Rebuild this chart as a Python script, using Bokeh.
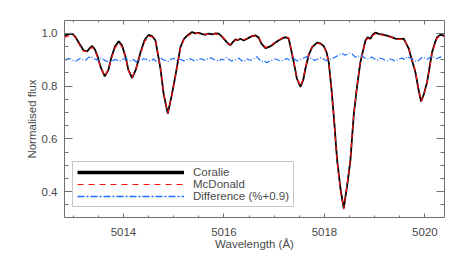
from bokeh.plotting import figure
from bokeh.models import (Range1d, LinearAxis, SingleIntervalTicker, CustomJSTickFormatter,
                          NumeralTickFormatter, Legend, LegendItem, ColumnDataSource)
from bokeh.embed import file_html
from bokeh.resources import INLINE

# ---------------- data ----------------
wavelength = [
    5012.826, 5012.90, 5012.945, 5013.00, 5013.045, 5013.12, 5013.204, 5013.278, 5013.33, 5013.377,
    5013.43, 5013.477, 5013.55, 5013.628, 5013.70, 5013.761, 5013.83, 5013.906, 5013.97, 5014.040,
    5014.10, 5014.173, 5014.25, 5014.338, 5014.42, 5014.503, 5014.57, 5014.637, 5014.736, 5014.80,
    5014.882, 5014.96, 5015.035, 5015.134, 5015.20, 5015.268, 5015.367, 5015.43, 5015.50, 5015.57,
    5015.632, 5015.70, 5015.77, 5015.83, 5015.897, 5015.96, 5016.030, 5016.08, 5016.129, 5016.18,
    5016.229, 5016.28, 5016.328, 5016.394, 5016.46, 5016.51, 5016.561, 5016.62, 5016.687, 5016.75,
    5016.826, 5016.89, 5016.959, 5017.02, 5017.085, 5017.15, 5017.224, 5017.290, 5017.389, 5017.45,
    5017.522, 5017.58, 5017.622, 5017.69, 5017.755, 5017.855, 5017.92, 5017.986, 5018.04, 5018.086,
    5018.14, 5018.185, 5018.253, 5018.32, 5018.384, 5018.45, 5018.517, 5018.583, 5018.65, 5018.716,
    5018.816, 5018.86, 5018.915, 5018.96, 5019.015, 5019.08, 5019.15, 5019.22, 5019.280, 5019.35,
    5019.413, 5019.50, 5019.578, 5019.678, 5019.74, 5019.811, 5019.87, 5019.924, 5019.98, 5020.044,
    5020.143, 5020.20, 5020.243, 5020.308, 5020.35, 5020.40,
]
coralie = [
    0.992, 0.997, 0.999, 0.996, 0.986, 0.962, 0.936, 0.932, 0.945, 0.952,
    0.940, 0.917, 0.870, 0.837, 0.862, 0.910, 0.950, 0.970, 0.955, 0.912,
    0.860, 0.831, 0.865, 0.928, 0.975, 0.995, 0.990, 0.973, 0.867, 0.770,
    0.696, 0.765, 0.841, 0.948, 0.978, 0.992, 1.005, 1.000, 1.002, 0.997,
    0.995, 0.999, 0.996, 1.000, 0.999, 0.988, 0.973, 0.962, 0.955, 0.968,
    0.977, 0.975, 0.980, 0.973, 0.980, 0.985, 0.990, 0.993, 0.985, 0.960,
    0.944, 0.948, 0.955, 0.965, 0.973, 0.980, 0.986, 0.980, 0.891, 0.830,
    0.797, 0.825, 0.867, 0.920, 0.948, 0.965, 0.962, 0.952, 0.930, 0.891,
    0.790, 0.689, 0.519, 0.410, 0.337, 0.420, 0.519, 0.689, 0.800, 0.891,
    0.973, 0.985, 0.980, 0.995, 1.003, 0.998, 0.996, 0.993, 0.990, 0.985,
    0.980, 0.978, 0.980, 0.942, 0.900, 0.853, 0.790, 0.742, 0.770, 0.816,
    0.929, 0.965, 0.986, 0.995, 0.993, 0.992,
]
mcdonald = [
    0.986, 0.990, 0.995, 0.994, 0.983, 0.958, 0.933, 0.931, 0.942, 0.947,
    0.936, 0.914, 0.868, 0.838, 0.865, 0.905, 0.945, 0.963, 0.950, 0.910,
    0.858, 0.833, 0.868, 0.922, 0.968, 0.990, 0.987, 0.975, 0.870, 0.772,
    0.698, 0.763, 0.838, 0.944, 0.976, 0.990, 1.001, 1.002, 0.999, 0.998,
    0.997, 0.996, 0.998, 0.998, 0.996, 0.990, 0.975, 0.963, 0.957, 0.966,
    0.974, 0.977, 0.978, 0.976, 0.982, 0.984, 0.992, 0.990, 0.987, 0.963,
    0.947, 0.950, 0.958, 0.967, 0.975, 0.982, 0.988, 0.983, 0.894, 0.832,
    0.800, 0.828, 0.870, 0.922, 0.950, 0.962, 0.960, 0.951, 0.928, 0.889,
    0.787, 0.685, 0.514, 0.406, 0.334, 0.424, 0.522, 0.692, 0.803, 0.893,
    0.970, 0.981, 0.978, 0.992, 0.999, 0.996, 0.994, 0.991, 0.988, 0.984,
    0.978, 0.977, 0.980, 0.944, 0.903, 0.856, 0.792, 0.743, 0.768, 0.813,
    0.925, 0.961, 0.983, 0.991, 0.990, 0.989,
]
diff_wavelength = [
    5012.85, 5012.90, 5012.95, 5013.00, 5013.05, 5013.10, 5013.15, 5013.20, 5013.25, 5013.30,
    5013.35, 5013.40, 5013.45, 5013.50, 5013.55, 5013.60, 5013.65, 5013.70, 5013.75, 5013.80,
    5013.85, 5013.90, 5013.95, 5014.00, 5014.05, 5014.10, 5014.15, 5014.20, 5014.25, 5014.30,
    5014.35, 5014.40, 5014.45, 5014.50, 5014.55, 5014.60, 5014.65, 5014.70, 5014.75, 5014.80,
    5014.85, 5014.90, 5014.95, 5015.00, 5015.05, 5015.10, 5015.15, 5015.20, 5015.25, 5015.30,
    5015.35, 5015.40, 5015.45, 5015.50, 5015.55, 5015.60, 5015.65, 5015.70, 5015.75, 5015.80,
    5015.85, 5015.90, 5015.95, 5016.00, 5016.05, 5016.10, 5016.15, 5016.20, 5016.25, 5016.30,
    5016.35, 5016.40, 5016.45, 5016.50, 5016.55, 5016.60, 5016.65, 5016.70, 5016.75, 5016.80,
    5016.85, 5016.90, 5016.95, 5017.00, 5017.05, 5017.10, 5017.15, 5017.20, 5017.25, 5017.30,
    5017.35, 5017.40, 5017.45, 5017.50, 5017.55, 5017.60, 5017.65, 5017.70, 5017.75, 5017.80,
    5017.85, 5017.90, 5017.95, 5018.00, 5018.05, 5018.10, 5018.15, 5018.20, 5018.25, 5018.30,
    5018.35, 5018.40, 5018.45, 5018.50, 5018.55, 5018.60, 5018.65, 5018.70, 5018.75, 5018.80,
    5018.85, 5018.90, 5018.95, 5019.00, 5019.05, 5019.10, 5019.15, 5019.20, 5019.25, 5019.30,
    5019.35, 5019.40, 5019.45, 5019.50, 5019.55, 5019.60, 5019.65, 5019.70, 5019.75, 5019.80,
    5019.85, 5019.90, 5019.95, 5020.00, 5020.05, 5020.10, 5020.15, 5020.20, 5020.25, 5020.30,
    5020.35,
]
difference = [
    0.898, 0.905, 0.903, 0.897, 0.894, 0.901, 0.906, 0.900, 0.899, 0.908,
    0.913, 0.904, 0.902, 0.896, 0.907, 0.901, 0.896, 0.890, 0.893, 0.899,
    0.901, 0.895, 0.897, 0.903, 0.904, 0.898, 0.895, 0.901, 0.892, 0.897,
    0.899, 0.904, 0.902, 0.896, 0.897, 0.903, 0.894, 0.900, 0.906, 0.899,
    0.898, 0.893, 0.903, 0.906, 0.897, 0.902, 0.901, 0.896, 0.899, 0.905,
    0.902, 0.897, 0.898, 0.903, 0.904, 0.899, 0.900, 0.906, 0.907, 0.901,
    0.898, 0.894, 0.903, 0.899, 0.909, 0.902, 0.895, 0.899, 0.901, 0.906,
    0.897, 0.893, 0.904, 0.900, 0.899, 0.905, 0.912, 0.902, 0.893, 0.897,
    0.889, 0.894, 0.898, 0.903, 0.902, 0.897, 0.896, 0.900, 0.905, 0.899,
    0.909, 0.903, 0.896, 0.901, 0.903, 0.908, 0.912, 0.906, 0.905, 0.898,
    0.901, 0.906, 0.908, 0.900, 0.897, 0.902, 0.904, 0.909, 0.914, 0.920,
    0.925, 0.918, 0.920, 0.926, 0.922, 0.913, 0.908, 0.917, 0.915, 0.907,
    0.902, 0.908, 0.910, 0.903, 0.898, 0.906, 0.904, 0.899, 0.896, 0.903,
    0.901, 0.895, 0.899, 0.904, 0.906, 0.900, 0.912, 0.907, 0.903, 0.897,
    0.893, 0.902, 0.911, 0.905, 0.902, 0.909, 0.914, 0.906, 0.905, 0.911,
    0.908,
]
series_labels = ["Coralie", "McDonald", "Difference (%+0.9)"]
x_ticks_major = 2
y_ticks_major = 0.2

# ---------------- figure ----------------
FONT = "Liberation Sans"
TXT = "#4a4a4a"
AX = "#707070"

p = figure(width=463, height=260, output_backend="svg", toolbar_location=None,
           x_range=Range1d(5012.826, 5020.39), y_range=Range1d(0.302, 1.049),
           x_axis_type=None, y_axis_type=None,
           min_border_left=64, min_border_right=19, min_border_top=20, min_border_bottom=43)
p.outline_line_color = None
p.xgrid.visible = False
p.ygrid.visible = False
p.background_fill_color = "white"
p.border_fill_color = "white"

def style(ax, tick_in, minor_in, labels=True):
    ax.axis_line_color = AX
    ax.axis_line_width = 1
    ax.major_tick_line_color = AX
    ax.minor_tick_line_color = AX
    ax.major_tick_out = 0
    ax.minor_tick_out = 0
    ax.major_tick_in = tick_in
    ax.minor_tick_in = minor_in
    ax.major_label_text_font = FONT
    ax.major_label_text_font_size = "11.5px"
    ax.major_label_text_color = TXT
    ax.axis_label_text_font = FONT
    ax.axis_label_text_font_size = "11.5px"
    ax.axis_label_text_font_style = "normal"
    ax.axis_label_text_color = TXT
    if not labels:
        ax.formatter = CustomJSTickFormatter(code="return ''")
        ax.major_label_standoff = 0

xt = lambda: SingleIntervalTicker(interval=x_ticks_major, num_minor_ticks=4)
yt = lambda: SingleIntervalTicker(interval=y_ticks_major, num_minor_ticks=4)

xb = LinearAxis(ticker=xt(), axis_label="Wavelength (Å)", formatter=NumeralTickFormatter(format="0"))
style(xb, 4, 2)
xb.major_label_standoff = 10
xb.axis_label_standoff = -1
p.add_layout(xb, "below")

xa = LinearAxis(ticker=xt())
style(xa, 4, 2, labels=False)
p.add_layout(xa, "above")

yl = LinearAxis(ticker=yt(), axis_label="Normalised flux", formatter=NumeralTickFormatter(format="0.0"))
style(yl, 8, 4)
yl.major_label_standoff = 7
yl.axis_label_standoff = 1
p.add_layout(yl, "left")

yr = LinearAxis(ticker=yt())
style(yr, 8, 4, labels=False)
p.add_layout(yr, "right")

src = ColumnDataSource(dict(wl=wavelength, cor=coralie, mcd=mcdonald))
dsrc = ColumnDataSource(dict(wl=diff_wavelength, d=difference))

p.line("wl", "cor", source=src, line_color="black", line_width=1.8)
p.line("wl", "mcd", source=src, line_color="#ff1010", line_width=1.2, line_dash="5 4")
p.line("wl", "d", source=dsrc, line_color="#1e6eff", line_width=1.2, line_dash="6 2 1 2")

# legend sample renderers (a single NaN point: nothing drawn on the plot)
nan = float("nan")
lg_c = p.line(x=[nan], y=[nan], line_color="black", line_width=3.5)
lg_m = p.line(x=[nan], y=[nan], line_color="#ff1010", line_width=1.2, line_dash="6 5")
lg_d = p.line(x=[nan], y=[nan], line_color="#1e6eff", line_width=1.5, line_dash="7 2 2 2")

legend = Legend(items=[LegendItem(label=series_labels[0], renderers=[lg_c]),
                       LegendItem(label=series_labels[1], renderers=[lg_m]),
                       LegendItem(label=series_labels[2], renderers=[lg_d])],
                location=(8, 10), orientation="vertical")
legend.margin = 0
legend.padding = 4
legend.spacing = 0
legend.glyph_width = 107
legend.glyph_height = 12
legend.label_height = 12
legend.label_standoff = 9
legend.label_text_font = FONT
legend.label_text_font_size = "11.5px"
legend.label_text_color = TXT
legend.border_line_color = "#909090"
legend.border_line_width = 1
legend.background_fill_color = "white"
legend.background_fill_alpha = 1
p.add_layout(legend, "center")

open("out.html", "w").write(file_html(p, INLINE))
